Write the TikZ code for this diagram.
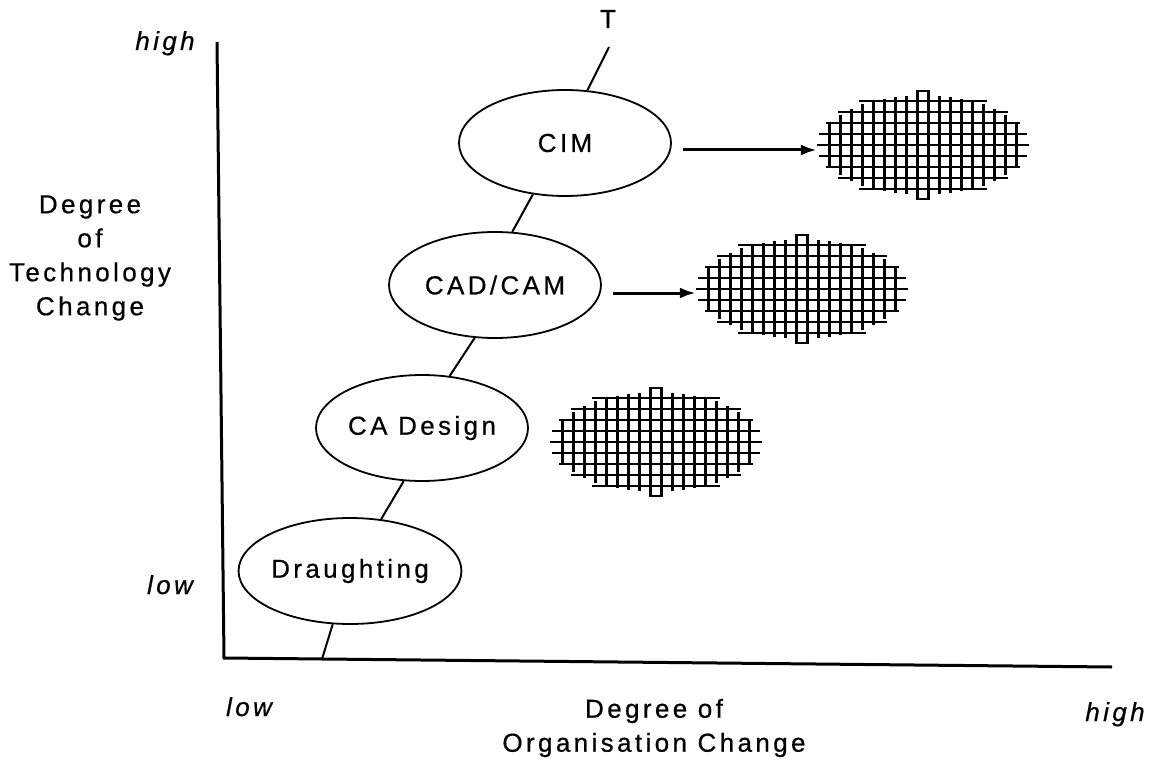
\documentclass[tikz,border=0pt]{standalone}
\usepackage{fontspec}
\setmainfont{Liberation Sans}[LetterSpace=13, FakeBold=0.6]
\usetikzlibrary{shapes.geometric,arrows.meta,positioning,calc}

\begin{document}
\begin{tikzpicture}[
        x=1pt, y=-1pt,
        every node/.style={font=\fontsize{26}{34}\selectfont, inner sep=0pt},
        stage/.style={draw, ellipse, line width=1.8pt, minimum width=212pt, minimum height=106pt},
        link/.style={draw, line width=2pt},
        axis/.style={draw, line width=3pt},
        feed/.style={draw, line width=3pt, -{Latex[length=16pt,width=11pt]}},
        level/.style={font=\fontsize{26}{34}\selectfont\itshape},
        blobbox/.style={ellipse, minimum width=212pt, minimum height=108pt},
        gridblob/.pic={
            \node[blobbox] (-box) at (0,0) {};
            \foreach \k in {-4,...,4} {
                \pgfmathsetmacro\hl{106*sqrt(1-(11*(\k)/55)^2)}
                \draw[line width=2.4pt] (-\hl,11*\k) -- (\hl,11*\k);
            }
            \foreach \j in {-9,...,8} {
                \pgfmathsetmacro\xc{11*(\j)+5.5}
                \pgfmathsetmacro\vl{50*sqrt(1-(\xc/104)^2)}
                \draw[line width=2.4pt] (\xc,-\vl) -- (\xc,\vl);
            }
            \draw[line width=2.4pt] (-5.5,-49) |- (5.5,-54) -- (5.5,-49);
            \draw[line width=2.4pt] (-5.5,49) |- (5.5,54) -- (5.5,49);
        }
    ]
        \useasboundingbox (0,0) rectangle (1162,762);

        \coordinate (origin) at (224,658);
        \coordinate (ytop) at (217,42);
        \coordinate (xend) at (1112,667);
        \draw[axis] (ytop) -- (origin) -- (xend);

        \node[stage] (draught) at (350,571) {Draughting};
        \node[stage] (cadesign) at (422,428) {CA Design};
        \node[stage] (cadcam) at (495,285) {CAD/CAM};
        \node[stage] (cim) at (565,143) {CIM};
        \node (tlabel) at (608,19) {T};
        \coordinate (ttail) at (609,47);
        \coordinate (tfoot) at (322,659);

        \draw[link] (tfoot) -- (draught.-108);
        \draw[link] (draught.59) -- (cadesign.-109);
        \draw[link] (cadesign.62) -- (cadcam.-111);
        \draw[link] (cadcam.72) -- (cim.-122);
        \draw[link] (cim.67) -- (ttail);

        \pic (blobcim) at (923,145) {gridblob};
        \pic (blobcadcam) at (802,289) {gridblob};
        \pic (blobdesign) at (656,442) {gridblob};

        \draw[feed] ([shift={(11,7)}]cim.east) -- ([shift={(0,5)}]blobcim-box.west);
        \draw[feed] ([shift={(11,8)}]cadcam.east) -- ([shift={(0,4)}]blobcadcam-box.west);

        \node[level, anchor=base] (yhigh) at (165,50) {high};
        \node[level, anchor=base] (ylow) at (170,594) {low};
        \node[align=center] (ytitle) at (90,258) {Degree\\of\\Technology\\Change};
        \node[level, anchor=base] (xlow) at (249,716) {low};
        \node[level, anchor=base] (xhigh) at (1115,721) {high};
        \node[align=center] (xtitle) at (654,728) {Degree of\\Organisation Change};
\end{tikzpicture}
\end{document}
